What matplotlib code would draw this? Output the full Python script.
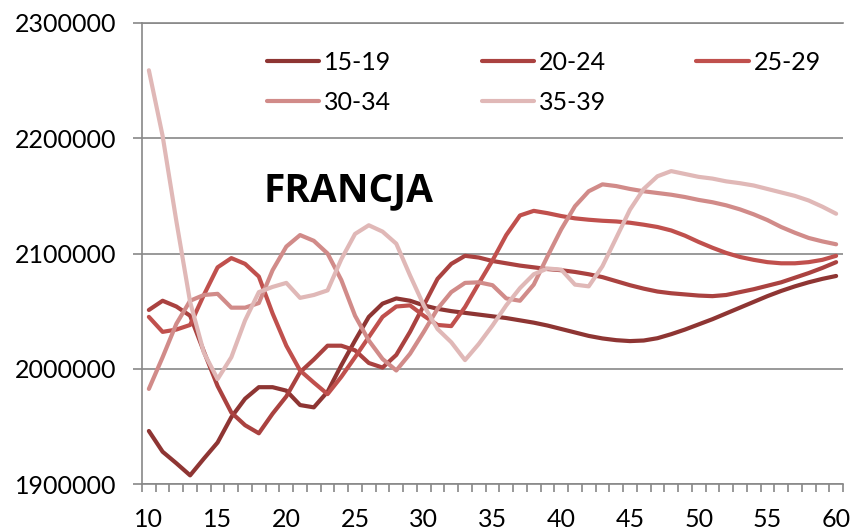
import matplotlib
matplotlib.use("Agg")
import matplotlib.pyplot as plt
from matplotlib.ticker import FixedLocator

# age on the x axis
ages = list(range(10, 61))

s15_19 = [1946000, 1928000, 1918000, 1907500, 1922000, 1936000, 1958000, 1974000, 1984000, 1984000,
          1981000, 1968500, 1966500, 1980000, 2003000, 2024500, 2045000, 2056500, 2061000, 2059000,
          2055000, 2052000, 2050000, 2048500, 2047000, 2045500, 2044000, 2042000, 2040000, 2037500,
          2034500, 2031500, 2028500, 2026300, 2024800, 2024000, 2024500, 2026500, 2030000, 2034000,
          2038500, 2043000, 2048000, 2053000, 2058000, 2063000, 2067500, 2071500, 2075000, 2078000,
          2080500]
s20_24 = [2051000, 2059000, 2054000, 2046000, 2015000, 1985000, 1962000, 1951000, 1944000, 1961000,
          1976000, 1997000, 2008000, 2020000, 2020000, 2016000, 2005000, 2001000, 2012000, 2032000,
          2055000, 2078000, 2091000, 2098000, 2096500, 2093500, 2091500, 2089500, 2088000, 2086500,
          2085500, 2084000, 2082000, 2079500, 2076000, 2072500, 2069500, 2067000, 2065500, 2064500,
          2063500, 2063000, 2064000, 2066500, 2069000, 2072000, 2075000, 2079000, 2083000, 2087500,
          2092500]
s25_29 = [2045000, 2032000, 2034000, 2038000, 2064000, 2088000, 2096000, 2091000, 2080000, 2048000,
          2020000, 1998500, 1988000, 1978000, 1993000, 2010000, 2027500, 2045000, 2054000, 2055000,
          2046000, 2038000, 2037000, 2053500, 2074000, 2094000, 2116000, 2133000, 2137000, 2135000,
          2132500, 2130500, 2129300, 2128400, 2127800, 2126700, 2125000, 2123000, 2120000, 2115500,
          2110000, 2105000, 2100500, 2097000, 2094500, 2092500, 2091500, 2091500, 2092500, 2094500,
          2098000]
s30_34 = [1982500, 2010000, 2039000, 2059000, 2064000, 2065000, 2053000, 2053000, 2057000, 2085500,
          2106000, 2116000, 2111000, 2100000, 2077000, 2046000, 2024500, 2008500, 1998500, 2013000,
          2032000, 2052000, 2066500, 2074500, 2075000, 2072500, 2061000, 2059000, 2073000, 2097500,
          2121000, 2141000, 2154000, 2160000, 2158500, 2156000, 2154000, 2152500, 2151000, 2149000,
          2146500, 2144500, 2141800, 2138300, 2134000, 2129000, 2123000, 2118000, 2113500, 2110500,
          2108000]
s35_39 = [2259000, 2202000, 2128000, 2058000, 2014000, 1991000, 2010000, 2042000, 2066500, 2071000,
          2074500, 2061500, 2064000, 2068000, 2095000, 2117000, 2124500, 2119000, 2108500, 2081000,
          2055000, 2034500, 2023000, 2007500, 2021500, 2037500, 2055000, 2070000, 2082000, 2087000,
          2086000, 2073000, 2071500, 2089000, 2113500, 2138000, 2156000, 2167000, 2171500, 2169000,
          2166500, 2165000, 2162600, 2161000, 2159000, 2156000, 2153000, 2150000, 2146000, 2140600,
          2134500]

labels = ["15-19", "20-24", "25-29", "30-34", "35-39"]
colors = ["#8E3533", "#AA4240", "#C0504D", "#D18B89", "#E0B8B7"]
y_ticks = [1900000, 2000000, 2100000, 2200000, 2300000]
x_labels = [10, 15, 20, 25, 30, 35, 40, 45, 50, 55, 60]

plt.rcParams['font.family'] = ['Lato', 'DejaVu Sans']

fig = plt.figure(figsize=(8.52, 5.31), dpi=100)
ax = fig.add_axes([142/852, 1 - 484/531, 701/852, 461/531])

lines = []
for s, lab, c in zip([s15_19, s20_24, s25_29, s30_34, s35_39], labels, colors):
    ln, = ax.plot(ages, s, color=c, lw=3, label=lab,
                  solid_capstyle='round', solid_joinstyle='round')
    lines.append(ln)

ax.set_xlim(9.5, 60.5)
ax.set_ylim(1900000, 2300000)

grey = "#888888"
ax.set_yticks(y_ticks)
ax.set_yticklabels([str(v) for v in y_ticks])
ax.yaxis.grid(True, color=grey, lw=1.2)
ax.set_axisbelow(True)

ax.set_xticks(x_labels)
ax.set_xticklabels([str(v) for v in x_labels])
# category boundaries as small ticks, labels sit between them
ax.xaxis.set_minor_locator(FixedLocator([a - 0.5 for a in ages] + [ages[-1] + 0.5]))
ax.tick_params(axis='x', which='major', length=0, pad=17, labelsize=18)
ax.tick_params(axis='x', which='minor', length=6, width=1.2, color=grey)
ax.tick_params(axis='y', which='major', length=6.5, width=1.2, color=grey, pad=12, labelsize=18)

ax.spines['right'].set_visible(False)
for side in ['left', 'bottom', 'top']:
    ax.spines[side].set_color(grey)
    ax.spines[side].set_linewidth(1.2)

ax.text(0.173, 0.636, "FRANCJA", transform=ax.transAxes, ha='left', va='center',
        fontsize=28, fontweight='bold', family=['Open Sans', 'DejaVu Sans'])

order = [0, 3, 1, 4, 2]
ax.legend([lines[i] for i in order], [labels[i] for i in order], ncol=3,
          loc='upper left', bbox_to_anchor=(0.178, 0.94), frameon=False,
          fontsize=18, borderpad=0, borderaxespad=0, handlelength=2.1,
          handletextpad=0.2, columnspacing=3.6, labelspacing=0.68)

fig.savefig("out.png", dpi=100)
